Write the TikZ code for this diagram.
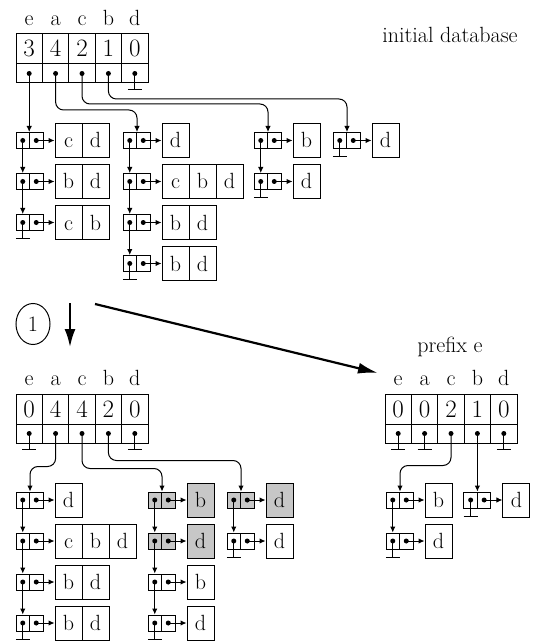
\documentclass[tikz,border=0pt]{standalone}
\usetikzlibrary{arrows.meta,shapes.geometric}

% one list entry: name, left x, centre y, fill, items
\newcommand{\entry}[5]{%
  \node[ptrcell,fill=#4] (#1l) at (#2+6.75,#3) {};
  \node[ptrcell,fill=#4] (#1r) at (#2+20.25,#3) {};
  \fill (#1l.center) circle (2.5pt) (#1r.center) circle (2.5pt);
  \foreach \itm [count=\n] in {#5}
    \node[itemcell,fill=#4] (#1-\n) at ({#2+25.5+27*\n},#3) {\itm};
  \draw[link] (#1r.center) -- (#1-1);
}
% header table: prefix, left x, top y, label/value pairs
\newcommand{\header}[4]{%
  \foreach \lab/\val [count=\n] in {#4} {
    \node (#1\lab-t) at ({#2+13.2+26.4*(\n-1)},#3-16) {\lab};
    \node[valcell] (#1\lab) at ({#2+13.2+26.4*(\n-1)},#3+15) {\val};
    \node[ptrrow] (#1\lab-p) at ({#2+13.2+26.4*(\n-1)},#3+39.5) {};
    \fill (#1\lab-p.center) circle (2.5pt);
  }
}
\newcommand{\nil}[1]{\draw (#1.center) -- ++(0,16) ++(-7,0) -- ++(14,0);}

\begin{document}
\begin{tikzpicture}[x=1pt,y=-1pt,line width=1pt,
  every node/.style={inner sep=0pt,text height=15pt,text depth=0pt,
    font=\fontsize{22}{25}\selectfont},
  ptrcell/.style={draw,minimum width=13.5pt,minimum height=16pt},
  itemcell/.style={draw,minimum width=27pt,minimum height=34pt},
  valcell/.style={draw,minimum width=26.4pt,minimum height=30pt,
    text height=16pt,font=\fontsize{25}{27}\selectfont},
  ptrrow/.style={draw,minimum width=26.4pt,minimum height=19pt},
  link/.style={-{Latex[length=6pt,width=5.5pt]}},
  bigarrow/.style={line width=2.2pt,-{Latex[length=20pt,width=11pt]}}]
\useasboundingbox (0,0) rectangle (532,644);

% initial database
\header{h}{16}{34}{e/3,a/4,c/2,b/1,d/0}
\nil{hd-p}
\node (title) at (450,35) {initial database};

\entry{te1}{16}{140.5}{white}{c,d}
\entry{te2}{16}{181.5}{white}{b,d}
\entry{te3}{16}{222.5}{white}{c,b}
\entry{ta1}{123}{140.5}{white}{d}
\entry{ta2}{123}{181.5}{white}{c,b,d}
\entry{ta3}{123}{222.5}{white}{b,d}
\entry{ta4}{123}{263.5}{white}{b,d}
\entry{tc1}{254}{140.5}{white}{b}
\entry{tc2}{254}{181.5}{white}{d}
\entry{tb1}{333}{140.5}{white}{d}

\draw[link] (he-p.center) -- (he-p.center |- te1l.north);
\draw[link,rounded corners=8pt] (ha-p.center) |- ([yshift=22pt]ta1l.north east) -- (ta1l.north east);
\draw[link,rounded corners=8pt] (hc-p.center) |- ([yshift=28pt]tc1l.north east) -- (tc1l.north east);
\draw[link,rounded corners=8pt] (hb-p.center) |- ([yshift=33pt]tb1l.north east) -- (tb1l.north east);
\draw[link] (te1l.center) -- (te2l.north);
\draw[link] (te2l.center) -- (te3l.north);
\draw[link] (ta1l.center) -- (ta2l.north);
\draw[link] (ta2l.center) -- (ta3l.north);
\draw[link] (ta3l.center) -- (ta4l.north);
\draw[link] (tc1l.center) -- (tc2l.north);
\nil{te3l} \nil{ta4l} \nil{tc2l} \nil{tb1l}

% step 1
\node[draw,ellipse,minimum width=34pt,minimum height=41pt,text height=14pt] (one) at (33,324) {1};
\coordinate (down-s) at (70,303);
\coordinate (down-t) at (70,347);
\draw[bigarrow,-{Latex[length=18pt,width=11pt]}] (down-s) -- (down-t);
\coordinate (proj-s) at (95,304);
\coordinate (proj-t) at (378,373);
\draw[bigarrow] (proj-s) -- (proj-t);

% after step 1
\header{g}{16}{394}{e/0,a/4,c/4,b/2,d/0}
\nil{ge-p} \nil{gd-p}

\entry{la1}{16}{500}{white}{d}
\entry{la2}{16}{541}{white}{c,b,d}
\entry{la3}{16}{582}{white}{b,d}
\entry{la4}{16}{623}{white}{b,d}
\entry{lc1}{148}{500}{black!22}{b}
\entry{lc2}{148}{541}{black!22}{d}
\entry{lc3}{148}{582}{white}{b}
\entry{lc4}{148}{623}{white}{d}
\entry{lb1}{227}{500}{black!22}{d}
\entry{lb2}{227}{541}{white}{d}

\draw[link,rounded corners=8pt] (ga-p.center) |- ([yshift=25pt]la1l.north east) -- (la1l.north east);
\draw[link,rounded corners=8pt] (gc-p.center) |- ([yshift=23pt]lc1l.north east) -- (lc1l.north east);
\draw[link,rounded corners=8pt] (gb-p.center) |- ([yshift=31pt]lb1l.north east) -- (lb1l.north east);
\draw[link] (la1l.center) -- (la2l.north);
\draw[link] (la2l.center) -- (la3l.north);
\draw[link] (la3l.center) -- (la4l.north);
\draw[link] (lc1l.center) -- (lc2l.north);
\draw[link] (lc2l.center) -- (lc3l.north);
\draw[link] (lc3l.center) -- (lc4l.north);
\draw[link] (lb1l.center) -- (lb2l.north);
\nil{la4l} \nil{lc4l} \nil{lb2l}

% prefix e
\node (prefix) at (450,345) {prefix e};
\header{p}{385}{394}{e/0,a/0,c/2,b/1,d/0}
\nil{pe-p} \nil{pa-p} \nil{pd-p}

\entry{rc1}{386}{500}{white}{b}
\entry{rc2}{386}{541}{white}{d}
\entry{rb1}{463.9}{500}{white}{d}

\draw[link,rounded corners=8pt] (pc-p.center) |- ([yshift=26pt]rc1l.north east) -- (rc1l.north east);
\draw[link] (pb-p.center) -- (pb-p.center |- rb1l.north);
\draw[link] (rc1l.center) -- (rc2l.north);
\nil{rc2l} \nil{rb1l}
\end{tikzpicture}
\end{document}
